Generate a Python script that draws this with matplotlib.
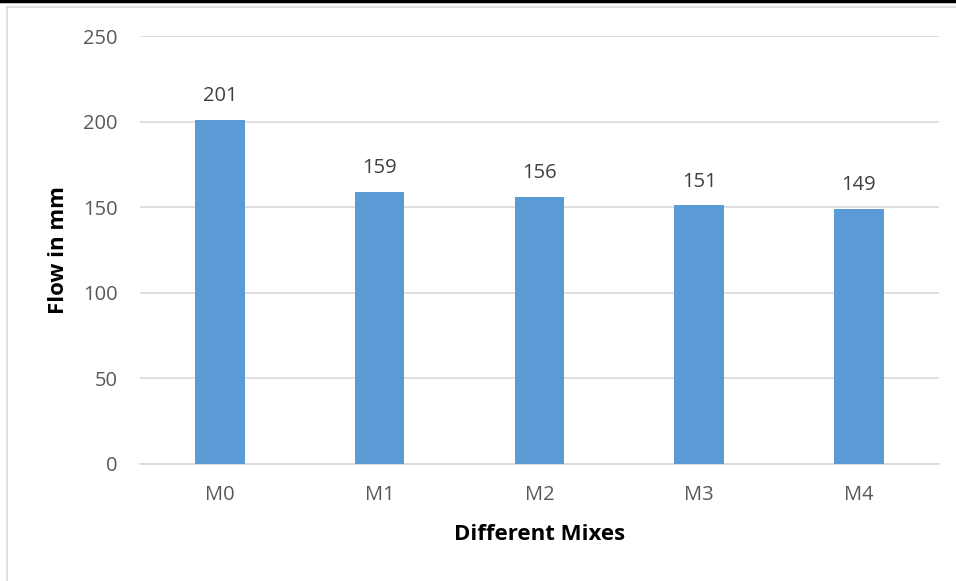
import matplotlib.pyplot as plt
from matplotlib.lines import Line2D

# flow test results per mix
mixes = ["M0", "M1", "M2", "M3", "M4"]
flow = [201, 159, 156, 151, 149]

bar_color = "#5B9BD5"
grid_color = "#D9D9D9"
text_color = "#595959"

plt.rcParams["font.family"] = ["Open Sans", "DejaVu Sans"]

fig = plt.figure(figsize=(9.56, 5.81), dpi=100)
ax = fig.add_axes([0.1464, 0.2014, 0.8356, 0.7366])

x = range(len(mixes))
bars = ax.bar(x, flow, width=0.31, color=bar_color, zorder=3)

for rect, val in zip(bars, flow):
    ax.annotate(str(val), (rect.get_x() + rect.get_width() / 2, val),
                xytext=(0, 10), textcoords="offset points",
                ha="center", va="bottom", fontsize=14.5, color="#404040")

ax.set_xlim(-0.5, len(mixes) - 0.5)
ax.set_ylim(0, 250)
ax.set_yticks(range(0, 251, 50))
ax.set_xticks(list(x))
ax.set_xticklabels(mixes)
ax.yaxis.grid(True, color=grid_color, linewidth=1.2, zorder=0)
ax.set_axisbelow(True)

for side in ["top", "right", "left"]:
    ax.spines[side].set_visible(False)
ax.spines["bottom"].set_color(grid_color)
ax.spines["bottom"].set_linewidth(1.2)
ax.tick_params(length=0, labelsize=14.5, colors=text_color)
ax.tick_params(axis="x", pad=15)
ax.tick_params(axis="y", pad=16)

ax.set_xlabel("Different Mixes", fontsize=16, fontweight="bold", color="black", labelpad=14)
ax.set_ylabel("Flow in mm", fontsize=16, fontweight="bold", color="black", labelpad=10)

# frame lines around the chart area
fig.add_artist(Line2D([0, 1], [0.998, 0.998], color="black", linewidth=2.5))
fig.add_artist(Line2D([0.0075, 1], [0.988, 0.988], color="#D9D9D9", linewidth=1.2))
fig.add_artist(Line2D([0.0075, 0.0075], [0, 0.988], color="#D9D9D9", linewidth=1.2))

fig.savefig("out.png", dpi=100)
